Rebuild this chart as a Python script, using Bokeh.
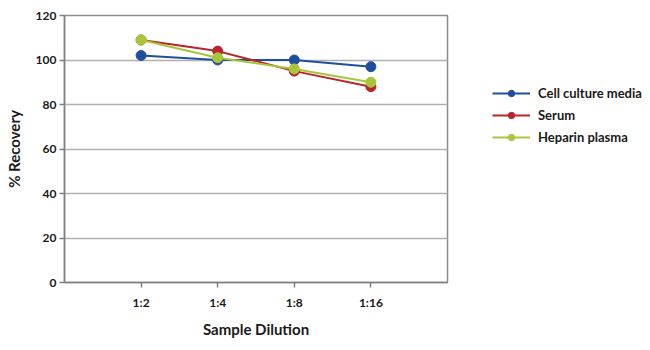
from bokeh.plotting import figure
from bokeh.models import FactorRange, Range1d, Legend, LegendItem, FixedTicker
from bokeh.embed import file_html
from bokeh.resources import INLINE

dilutions = ["1:2", "1:4", "1:8", "1:16"]
cell_culture = [102, 100, 100, 97]
serum = [109, 104, 95, 88]
heparin = [109, 101, 96, 90]
series_names = ["Cell culture media", "Serum", "Heparin plasma"]
colors = ["#1f4f9c", "#b8262b", "#a9c53b"]

FONT = "Lato"

p = figure(frame_width=383, frame_height=267, output_backend="svg", toolbar_location=None,
           x_range=FactorRange(*dilutions, range_padding=0.5, range_padding_units="absolute"),
           y_range=Range1d(0, 120),
           min_border_left=64, min_border_right=203, min_border_top=15, min_border_bottom=68)

p.outline_line_color = "#8c8c8c"
p.outline_line_width = 1.5
p.background_fill_color = "white"
p.border_fill_color = "white"

p.xgrid.grid_line_color = None
p.ygrid.grid_line_color = "#b0b0b0"
p.ygrid.grid_line_width = 1.5
p.yaxis.ticker = FixedTicker(ticks=[0, 20, 40, 60, 80, 100, 120])

for ax in (p.xaxis[0], p.yaxis[0]):
    ax.axis_line_color = "#7f7f7f"
    ax.axis_line_width = 1.5
    ax.major_tick_line_color = "#7f7f7f"
    ax.major_tick_line_width = 1.5
    ax.major_tick_out = 5
    ax.major_tick_in = 0
    ax.minor_tick_line_color = None
    ax.major_label_text_font = FONT
    ax.major_label_text_font_style = "bold"
    ax.major_label_text_font_size = "12px"
    ax.major_label_text_color = "#1a1a1a"
    ax.axis_label_text_font = FONT
    ax.axis_label_text_font_style = "bold"
    ax.axis_label_text_font_size = "15px"
    ax.axis_label_text_color = "#1a1a1a"

p.xaxis.axis_label = "Sample Dilution"
p.yaxis.axis_label = "% Recovery"
p.xaxis.major_label_standoff = 7
p.xaxis.axis_label_standoff = 7
p.yaxis.major_label_standoff = 3
p.yaxis.axis_label_standoff = 10

items = []
for name, vals, c in zip(series_names, [cell_culture, serum, heparin], colors):
    r1 = p.line(dilutions, vals, line_color=c, line_width=2)
    r2 = p.scatter(dilutions, vals, size=10, fill_color=c, line_color=c)
    items.append(LegendItem(label=name, renderers=[r1, r2]))

legend = Legend(items=items, location=(45, 137), orientation="vertical",
                label_text_font=FONT, label_text_font_style="bold",
                label_text_font_size="13px", label_text_color="#1a1a1a",
                glyph_width=38, glyph_height=16, spacing=6, label_standoff=8,
                padding=0, margin=0, border_line_color=None, background_fill_alpha=0)
p.add_layout(legend, "right")

open("out.html", "w").write(file_html(p, INLINE))
